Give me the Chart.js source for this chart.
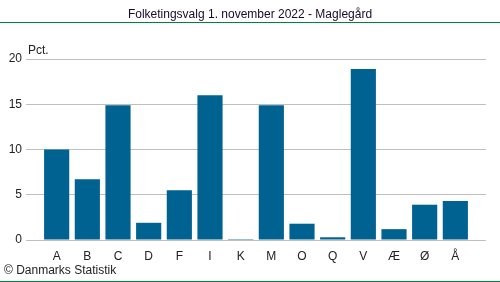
<!DOCTYPE html>
<html>
<head>
<meta charset="utf-8">
<script src="https://cdn.jsdelivr.net/npm/chart.js@4"></script>
<style>
  html, body { margin: 0; padding: 0; background: #fff; }
  #wrap { width: 500px; height: 282px; position: relative; }
</style>
</head>
<body>
<div id="wrap"><canvas id="chart" width="500" height="282"></canvas></div>
<script>
// Data
const categories = ['A', 'B', 'C', 'D', 'F', 'I', 'K', 'M', 'O', 'Q', 'V', 'Æ', 'Ø', 'Å'];
const values = [10.0, 6.7, 14.9, 1.9, 5.5, 16.0, 0.1, 14.9, 1.8, 0.3, 18.9, 1.2, 3.9, 4.3];
const yTicks = [0, 5, 10, 15, 20];

const TITLE = 'Folketingsvalg 1. november 2022 - Maglegård';
const UNIT = 'Pct.';
const SOURCE = '© Danmarks Statistik';

const FONT = "'Liberation Sans', Arial, sans-serif";
const BAR_COLOR = '#006291';
const GRID_COLOR = '#bfbfbf';
const LINE_GREEN = '#00843d';

// empty slot at each end so the grid runs wider than the bars
const labels = [''].concat(categories, ['']);
const data = [null].concat(values, [null]);

/* ---------- Decorations: title, green rules, unit, source ---------- */
const decorations = {
  id: 'decorations',
  afterDraw(chart) {
    const ctx = chart.ctx;
    ctx.save();
    ctx.font = '12px ' + FONT;
    ctx.fillStyle = '#1a0a2a';
    ctx.textAlign = 'center';
    ctx.textBaseline = 'middle';
    ctx.fillText(TITLE, 250, 15);

    ctx.strokeStyle = LINE_GREEN;
    ctx.lineWidth = 1;
    ctx.beginPath();
    ctx.moveTo(0, 22.5); ctx.lineTo(500, 22.5);
    ctx.moveTo(0, 281.5); ctx.lineTo(500, 281.5);
    ctx.stroke();

    ctx.fillStyle = '#222';
    ctx.textAlign = 'left';
    ctx.fillText(UNIT, 28, 51);
    ctx.fillText(SOURCE, 4, 271);
    ctx.restore();
  }
};

new Chart(document.getElementById('chart'), {
  type: 'bar',
  data: {
    labels: labels,
    datasets: [{
      data: data,
      backgroundColor: BAR_COLOR,
      borderWidth: 0,
      categoryPercentage: 1,
      barPercentage: 0.82
    }]
  },
  plugins: [decorations],
  options: {
    responsive: false,
    animation: false,
    events: [],
    layout: { padding: { left: 0, right: 14, top: 59, bottom: 0 } },
    plugins: {
      legend: { display: false },
      tooltip: { enabled: false },
      title: { display: false }
    },
    scales: {
      x: {
        offset: false,
        grid: { display: false },
        border: { display: false },
        ticks: {
          padding: 1,
          color: '#222',
          font: { family: FONT, size: 12 },
          maxRotation: 0,
          autoSkip: false
        },
        afterFit(scale) { scale.height = 42; }
      },
      y: {
        min: 0,
        max: 20,
        afterBuildTicks(scale) { scale.ticks = yTicks.map(v => ({ value: v })); },
        grid: { color: GRID_COLOR, drawTicks: false },
        border: { display: false },
        ticks: {
          padding: 4,
          color: '#222',
          font: { family: FONT, size: 12 }
        },
        afterFit(scale) { scale.width = 26; }
      }
    }
  }
});
</script>
</body>
</html>
